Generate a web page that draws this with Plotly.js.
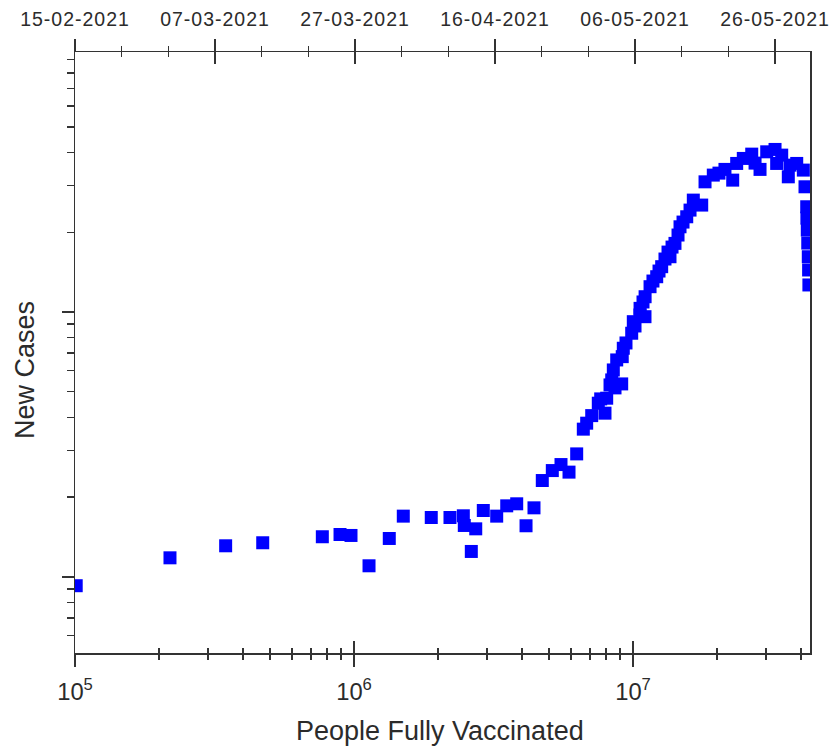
<!DOCTYPE html>
<html>
<head>
<meta charset="utf-8">
<script src="https://cdn.plot.ly/plotly-3.0.1.min.js"></script>
<style>
  html, body { margin: 0; padding: 0; background: #fff; }
  #chart { width: 836px; height: 749px; }
  .x2tick text { letter-spacing: 1px; }
</style>
</head>
<body>
<div id="chart"></div>
<script>
// People fully vaccinated (x) and daily new cases (y)
const peopleFullyVaccinated = [
  101000, 219000, 346700, 470800, 770000, 891000, 975500, 1132000, 1338000, 1502000,
  1892000, 2208000, 2465000, 2485000, 2633000, 2731000, 2907000, 3247000, 3527000, 3830000,
  4136000, 4417000, 4730000, 5138000, 5520000, 5897000, 6283000, 6636000, 6823000, 7112000,
  7509000, 7659000, 7936000, 8048000, 8272000, 8389000, 8500000, 8620000, 8742000, 9109000,
  9150000, 9230000, 9438000, 9893000, 10025000, 10167000, 10590000, 10600000, 10860000, 11040000,
  11050000, 11510000, 11790000, 12160000, 12395000, 12670000, 13020000, 13350000, 13570000, 13800000,
  14140000, 14500000, 14740000, 15110000, 15580000, 16010000, 16450000, 17630000, 18120000, 19400000,
  20330000, 21360000, 22770000, 23530000, 24850000, 26640000, 27380000, 28530000, 30150000, 32290000,
  32730000, 34120000, 36030000, 36540000, 38620000, 40780000, 41350000, 41940000, 42000000, 42140000,
  42300000, 42490000, 42600000, 42700000
];
const newCases = [
  9250, 11790, 13090, 13440, 14160, 14440, 14320, 11000, 13950, 16940,
  16740, 16740, 16990, 15620, 12460, 15170, 17790, 16940, 18530, 18860,
  15580, 18210, 23090, 25180, 26530, 24840, 29110, 36100, 38020, 40610,
  45240, 46960, 41480, 47250, 53030, 55390, 60400, 51680, 65900, 53500,
  67820, 72950, 76380, 83130, 91920, 88550, 97430, 103200, 109100, 96000,
  114200, 124600, 130900, 135900, 142800, 148300, 158500, 168400, 161700, 175900,
  181600, 195300, 209800, 218600, 228900, 242600, 264600, 253400, 310200, 328900,
  334600, 345600, 314800, 364000, 380200, 394700, 365000, 345600, 402700, 411100,
  364000, 391300, 324000, 358600, 364000, 343500, 297100, 249700, 226300, 203900,
  182100, 161700, 144100, 126500
];
// Top date axis
const dateRange = ['2021-02-15', '2021-05-31'];
const dateTickStart = '2021-02-15';
const dateTickDays = 20;

const DAY = 86400000;
const axisColor = '#333333';
const textColor = '#2b2b2b';

const trace = {
  type: 'scatter',
  mode: 'markers',
  x: peopleFullyVaccinated,
  y: newCases,
  xaxis: 'x',
  yaxis: 'y',
  marker: { symbol: 'square', size: 13, color: '#0000ff', line: { width: 0 } },
  hoverinfo: 'x+y'
};

// invisible helper traces so the overlay axes (top date axis, crossing ticks) get drawn
const ghostStyle = { mode: 'markers', marker: { size: 1, opacity: 0 }, hoverinfo: 'skip', showlegend: false };
const ghostLog = Object.assign({ type: 'scatter', x: peopleFullyVaccinated, y: newCases, xaxis: 'x3', yaxis: 'y' }, ghostStyle);
const ghostDate = Object.assign({ type: 'scatter', x: dateRange, y: [newCases[0], newCases[0]], xaxis: 'x2', yaxis: 'y' }, ghostStyle);
const ghostDate2 = Object.assign({ type: 'scatter', x: dateRange, y: [newCases[0], newCases[0]], xaxis: 'x4', yaxis: 'y' }, ghostStyle);

const logXRange = [5, 7.6344];
const logYRange = [3.712, 5.982];

const layout = {
  width: 836,
  height: 749,
  margin: { l: 75, r: 26, t: 52, b: 96 },
  paper_bgcolor: '#ffffff',
  plot_bgcolor: '#ffffff',
  showlegend: false,
  font: { family: 'Liberation Sans, Arial, sans-serif', color: textColor },
  xaxis: {
    type: 'log', range: logXRange, dtick: 1, exponentformat: 'power',
    showgrid: false, zeroline: false,
    showline: true, linecolor: axisColor, linewidth: 1.5,
    ticks: 'outside', ticklen: 12, tickwidth: 1.5, tickcolor: axisColor,
    minor: { dtick: 'D1', ticks: 'outside', ticklen: 5, tickwidth: 1.5, tickcolor: axisColor, showgrid: false },
    tickfont: { size: 19, color: textColor },
    ticklabelstandoff: 6
  },
  xaxis3: {
    type: 'log', range: logXRange, dtick: 1, overlaying: 'x', anchor: 'y', side: 'bottom',
    showgrid: false, zeroline: false, showline: false, showticklabels: false,
    ticks: 'inside', ticklen: 12, tickwidth: 1.5, tickcolor: axisColor,
    minor: { dtick: 'D1', ticks: 'inside', ticklen: 5, tickwidth: 1.5, tickcolor: axisColor, showgrid: false }
  },
  xaxis2: {
    type: 'date', range: dateRange, overlaying: 'x', anchor: 'y', side: 'top',
    tick0: dateTickStart, dtick: dateTickDays * DAY, tickformat: '%d-%m-%Y',
    showgrid: false, zeroline: false,
    showline: true, linecolor: axisColor, linewidth: 1.5,
    ticks: 'outside', ticklen: 12, tickwidth: 1.5, tickcolor: axisColor,
    minor: { tick0: dateTickStart, dtick: dateTickDays * DAY / 3, ticks: 'outside', ticklen: 5, tickwidth: 1.5, tickcolor: axisColor, showgrid: false },
    tickfont: { size: 19.5, color: textColor },
    ticklabelstandoff: 5
  },
  xaxis4: {
    type: 'date', range: dateRange, overlaying: 'x', anchor: 'y', side: 'top',
    tick0: dateTickStart, dtick: dateTickDays * DAY,
    showgrid: false, zeroline: false, showline: false, showticklabels: false,
    ticks: 'inside', ticklen: 12, tickwidth: 1.5, tickcolor: axisColor,
    minor: { tick0: dateTickStart, dtick: dateTickDays * DAY / 3, ticks: 'inside', ticklen: 5, tickwidth: 1.5, tickcolor: axisColor, showgrid: false }
  },
  yaxis: {
    type: 'log', range: logYRange, dtick: 1,
    showgrid: false, zeroline: false, showticklabels: false,
    showline: true, mirror: true, linecolor: axisColor, linewidth: 1.5,
    ticks: 'outside', ticklen: 12, tickwidth: 1.5, tickcolor: axisColor,
    minor: { dtick: 'D1', ticks: 'outside', ticklen: 7, tickwidth: 1.5, tickcolor: axisColor, showgrid: false }
  },
  annotations: [
    {
      text: 'New Cases', xref: 'paper', yref: 'paper', x: -0.068, y: 0.471,
      textangle: -90, showarrow: false, xanchor: 'center', yanchor: 'middle',
      font: { size: 27, color: textColor }
    },
    {
      text: 'People Fully Vaccinated', xref: 'paper', yref: 'paper', x: 0.4966, y: -0.129,
      showarrow: false, xanchor: 'center', yanchor: 'middle',
      font: { size: 27, color: textColor }
    }
  ]
};

Plotly.newPlot('chart', [ghostLog, ghostDate, ghostDate2, trace], layout, { displayModeBar: false, staticPlot: true });
</script>
</body>
</html>
